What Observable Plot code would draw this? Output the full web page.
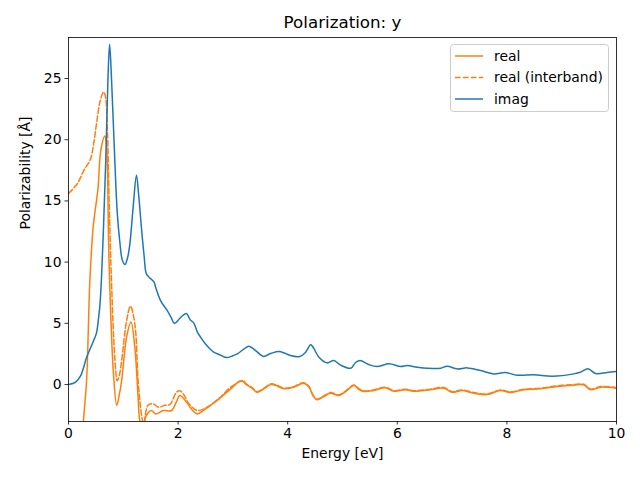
<!DOCTYPE html>
<html><head><meta charset="utf-8">
<script src="https://cdn.jsdelivr.net/npm/d3@7"></script>
<script src="https://cdn.jsdelivr.net/npm/@observablehq/plot@0.6"></script>
<style>body{margin:0;background:#fff}</style>
</head><body><div id="chart"></div>
<script>
// Imaginary part
const imagE = [0,0.13,0.22,0.33,0.45,0.51,0.55,0.57,0.60,0.64,0.68,0.72,0.75,0.78,0.845,0.89,0.94,0.98,1.03,1.08,1.12,1.18,1.24,1.28,1.33,1.38,1.42,1.47,1.556,1.6,1.68,1.8,1.87,1.93,1.97,2.05,2.15,2.22,2.29,2.35,2.41,2.52,2.65,2.75,2.88,3.0,3.08,3.2,3.29,3.38,3.5,3.56,3.7,3.84,3.95,4.05,4.22,4.32,4.42,4.47,4.57,4.72,4.84,4.96,5.15,5.24,5.32,5.48,5.63,5.85,6.06,6.18,6.36,6.55,6.79,6.91,7.09,7.28,7.52,7.76,7.97,8.19,8.49,8.83,9.22,9.34,9.48,9.62,9.83,10];
const imagV = [0,0.2,0.7,2.2,3.5,4.2,5.5,6.3,8.5,13,18.3,25,27.8,25.5,18.3,14,11.5,10.2,9.8,10.4,11.5,14.5,17.1,15.5,12.85,10.5,9.06,8.77,8.4,7.8,6.86,6.05,5.5,5.0,5.1,5.5,5.8,5.3,5.0,4.3,3.87,3.2,2.64,2.45,2.2,2.35,2.5,2.9,3.13,2.9,2.45,2.3,2.55,2.7,2.55,2.37,2.29,2.6,3.24,3.0,2.23,1.77,1.96,1.6,1.33,1.8,1.96,1.63,1.47,1.69,1.47,1.55,1.42,1.33,1.33,1.5,1.28,1.36,1.14,0.87,0.98,0.76,0.79,0.68,0.87,1.0,1.28,0.9,0.98,1.06];
// Real part
const realE = [0.2,0.27,0.33,0.39,0.45,0.54,0.57,0.60,0.66,0.69,0.71,0.73,0.75,0.82,0.88,0.92,0.97,1.06,1.14,1.21,1.27,1.30,1.35,1.42,1.51,1.59,1.73,1.88,1.97,2.03,2.13,2.26,2.35,2.47,2.71,2.96,3.14,3.2,3.23,3.35,3.44,3.55,3.69,3.8,3.93,4.11,4.29,4.39,4.46,4.53,4.65,4.78,4.93,5.05,5.21,5.3,5.39,5.57,5.78,5.94,6.15,6.3,6.6,6.85,7.0,7.18,7.4,7.64,7.88,8.07,8.31,8.61,8.92,9.22,9.4,9.53,9.71,10];
const realV = [-8,-3.1,0.33,8.5,12.85,16.1,18.3,19.4,20.3,19.8,17.8,12,8.5,0.9,-1.7,-1.0,0.33,3.87,5.1,3.05,-1.04,-2.94,-3.6,-2.53,-2.12,-2.4,-2.12,-2.12,-1.4,-0.9,-1.3,-2.1,-2.4,-2.1,-1.3,-0.35,0.3,0.2,0.05,-0.3,-0.63,-0.4,0,-0.1,-0.35,-0.22,0.1,-0.22,-0.9,-1.25,-1.0,-0.71,-0.9,-0.6,-0.08,-0.4,-0.57,-0.49,-0.27,-0.55,-0.43,-0.55,-0.43,-0.3,-0.63,-0.49,-0.71,-0.82,-0.49,-0.65,-0.43,-0.35,-0.16,-0.05,-0.03,-0.43,-0.22,-0.3];
// Real part (interband)
const interE = [0,0.16,0.28,0.40,0.46,0.52,0.58,0.64,0.675,0.71,0.74,0.78,0.845,0.89,0.93,0.97,1.06,1.13,1.21,1.27,1.33,1.37,1.45,1.545,1.64,1.76,1.85,1.97,2.03,2.1,2.2,2.35,2.53,2.77,2.96,3.19,3.23,3.35,3.44,3.55,3.69,3.8,3.93,4.11,4.29,4.39,4.46,4.53,4.65,4.78,4.93,5.05,5.21,5.3,5.39,5.57,5.78,5.94,6.15,6.3,6.6,6.85,7.0,7.18,7.4,7.64,7.88,8.07,8.31,8.61,8.92,9.22,9.4,9.53,9.71,10];
const interV = [15.6,16.4,17.5,18.4,19.7,21.6,23.2,23.9,23.5,20.8,15.3,9,2.2,0.3,0.8,1.96,5.2,6.4,4.96,0.33,-2.4,-3.2,-1.7,-1.58,-1.85,-1.7,-1.63,-0.63,-0.5,-0.8,-1.58,-2.12,-1.85,-1.04,-0.22,0.33,0.1,-0.25,-0.58,-0.35,0.05,-0.05,-0.3,-0.17,0.15,-0.17,-0.85,-1.2,-0.95,-0.66,-0.85,-0.55,-0.03,-0.35,-0.52,-0.44,-0.22,-0.5,-0.38,-0.5,-0.38,-0.25,-0.58,-0.44,-0.66,-0.77,-0.44,-0.6,-0.38,-0.3,-0.11,0,0.02,-0.38,-0.17,-0.25];

const xTicks = [0,2,4,6,8,10];
const yTicks = [0,5,10,15,20,25];
const seriesNames = ["real","real (interband)","imag"];
const colors = ["#ff7f0e","#ff7f0e","#1f77b4"];

const toRows = (E,V) => E.map((e,i)=>({e, v:V[i]}));
const realRows = toRows(realE, realV);
const interRows = toRows(interE, interV);
const imagRows = toRows(imagE, imagV);

const font = "DejaVu Sans";
const plot = Plot.plot({
  width:640, height:480,
  marginLeft:68, marginRight:24, marginTop:37, marginBottom:59,
  style:{fontFamily:font, fontSize:"13.9px", background:"#fff", color:"#000"},
  x:{domain:[0,10]},
  y:{domain:[-3.02,28.35]},
  marks:[
    Plot.line(realRows,{x:"e",y:"v",stroke:colors[0],strokeWidth:1.5,clip:true,curve:"catmull-rom"}),
    Plot.line(interRows,{x:"e",y:"v",stroke:colors[1],strokeWidth:1.5,strokeDasharray:"5.55,2.4",clip:true,curve:"catmull-rom"}),
    Plot.line(imagRows,{x:"e",y:"v",stroke:colors[2],strokeWidth:1.5,clip:true,curve:"catmull-rom"}),
    Plot.frame({stroke:"#000",strokeWidth:0.8}),
    Plot.axisX({ticks:xTicks, tickSize:3.5, tickPadding:3.5, label:null, tickFormat:d=>String(d), strokeWidth:0.8}),
    Plot.axisY({ticks:yTicks, tickSize:3.5, tickPadding:3.5, label:null, tickFormat:d=>String(d), strokeWidth:0.8}),
    Plot.text(["Energy [eV]"],{frameAnchor:"bottom", dy:36, text:d=>d, fill:"#000"}),
    Plot.text(["Polarizability [Å]"],{frameAnchor:"left", dx:-43, rotate:-90, text:d=>d, fill:"#000"}),
    Plot.text(["Polarization: y"],{frameAnchor:"top", dy:-21, text:d=>d, fontSize:16.7, fill:"#000"})
  ]
});
document.getElementById("chart").appendChild(plot);

// Legend (matplotlib style, upper right)
const svg = d3.select(plot);
const lg = svg.append("g").attr("font-family", font).attr("font-size", 13.9).attr("text-anchor","start");
lg.append("rect").attr("x",450.5).attr("y",44.5).attr("width",158).attr("height",67).attr("rx",3)
  .attr("fill","#fff").attr("fill-opacity",0.8).attr("stroke","#cccccc");
seriesNames.forEach((name,i)=>{
  const yy = 56 + i*21.5;
  lg.append("line").attr("x1",455).attr("x2",483).attr("y1",yy).attr("y2",yy)
    .attr("stroke",colors[i]).attr("stroke-width",1.5)
    .attr("stroke-dasharray", i===1 ? "5.55,2.4" : null);
  lg.append("text").attr("x",494).attr("y",yy).attr("dy","0.35em").attr("text-anchor","start").attr("fill","#000").text(name);
});
</script>
</body></html>
